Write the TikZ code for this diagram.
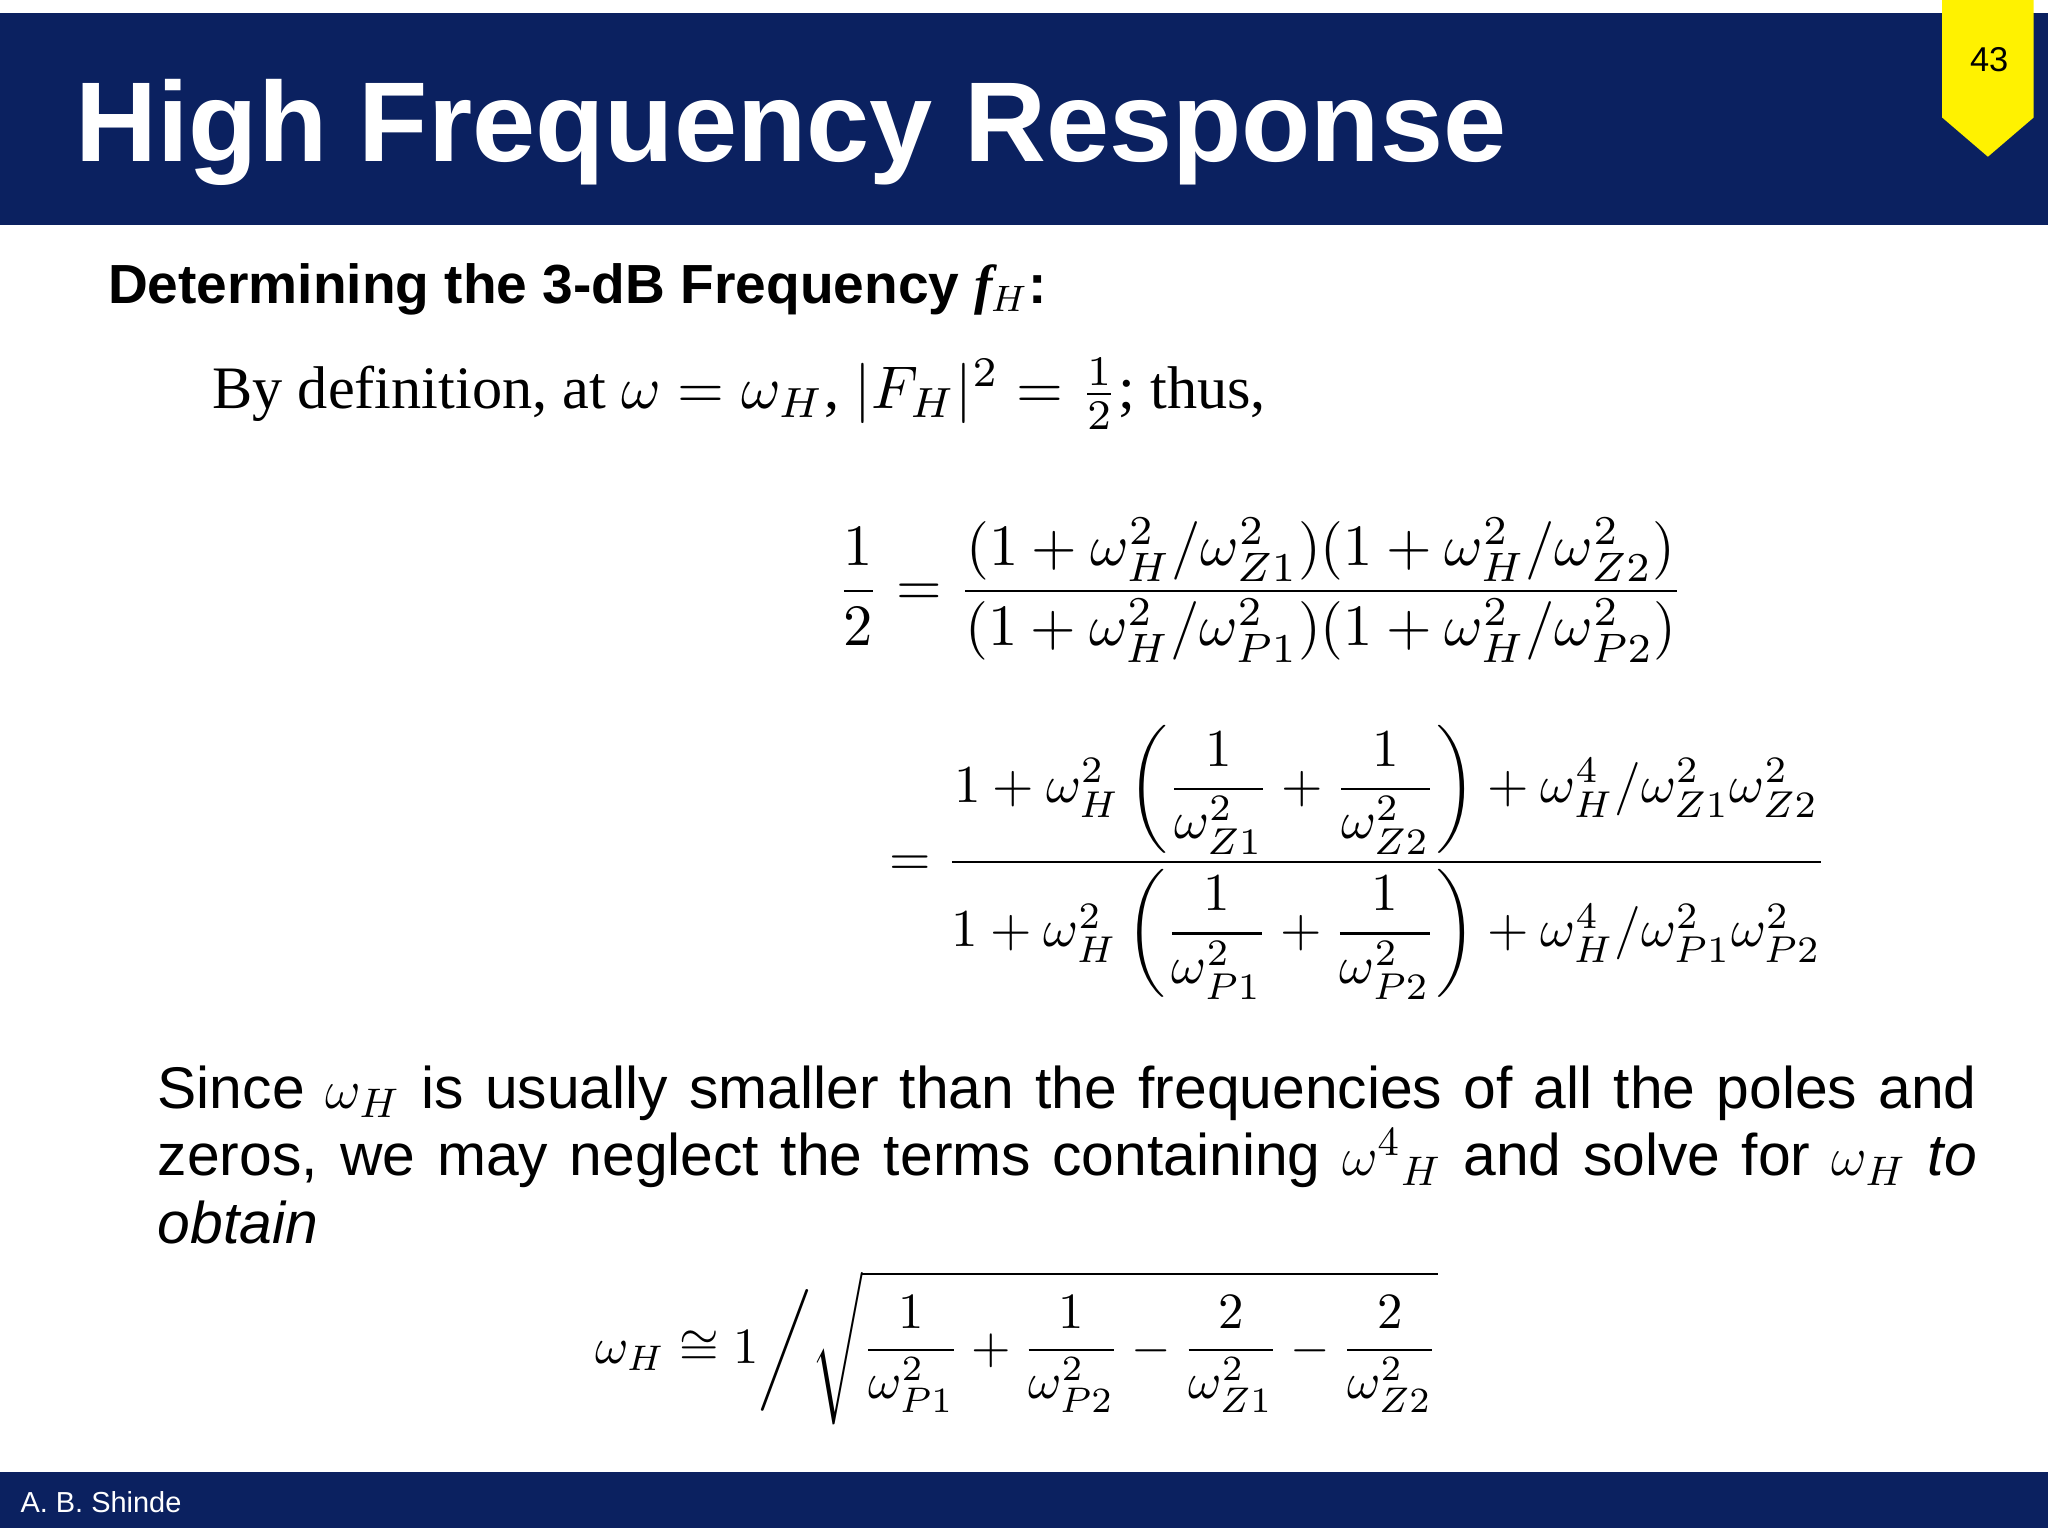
\documentclass[tikz,border=0pt]{standalone}
\usepackage{fontspec}
\setmainfont{Liberation Serif}
\newfontfamily\arial{Liberation Sans}
\usepackage{amsmath,graphicx}
\definecolor{navy}{HTML}{0B2160}
\definecolor{tabyellow}{HTML}{FFF200}
\tikzset{body/.style={font=\arial\fontsize{12.8}{14.8}\selectfont, inner sep=0pt}}
\begin{document}
\begin{tikzpicture}[x=0.01cm,y=-0.01cm]
\useasboundingbox (0,0) rectangle (1568,1176);
\fill[navy] (0,10) rectangle (1568,172);
\fill[navy] (0,1127) rectangle (1568,1170);
\fill[tabyellow] (1487,0) -- (1557,0) -- (1557,90) -- (1522,120) -- (1487,90) -- cycle;
\node[anchor=center, font=\arial\fontsize{7.5}{9}\selectfont] (num) at (1523,46) {43};
\node[anchor=base west, inner sep=0pt, text=white, font=\arial\bfseries\fontsize{24.7}{28}\selectfont] (title) at (57,124) {High Frequency Response};
\node[anchor=west, inner sep=0pt, text=white, font=\arial\fontsize{6.3}{8}\selectfont] (author) at (15,1150) {A. B. Shinde};
\node[anchor=base west, inner sep=0pt, font=\arial\bfseries\fontsize{12}{14}\selectfont] (head) at (82,232) {Determining the 3-dB Frequency \textit{\rmfamily f}$_{\!H}$:};
\node[anchor=base west, inner sep=0pt] (def) at (162,313) {\resizebox{8.06cm}{!}{By definition, at $\omega=\omega_H$, $|F_H|^2=\tfrac12$; thus,}};
\node[anchor=west, inner sep=0pt] (eq1) at (640,452) {\resizebox{6.48cm}{!}{$\dfrac12=\dfrac{(1+\omega_H^2/\omega_{Z1}^2)(1+\omega_H^2/\omega_{Z2}^2)}{(1+\omega_H^2/\omega_{P1}^2)(1+\omega_H^2/\omega_{P2}^2)}$}};
\node[anchor=west, inner sep=0pt] (eq2) at (680,660) {\resizebox{7.18cm}{!}{$=\dfrac{1+\omega_H^2\left(\dfrac{1}{\omega_{Z1}^2}+\dfrac{1}{\omega_{Z2}^2}\right)+\omega_H^4/\omega_{Z1}^2\omega_{Z2}^2}{1+\omega_H^2\left(\dfrac{1}{\omega_{P1}^2}+\dfrac{1}{\omega_{P2}^2}\right)+\omega_H^4/\omega_{P1}^2\omega_{P2}^2}$}};
\node[anchor=north west, body, text width=13.92cm, align=justify] (para) at (120,815) {\fontsize{12.8}{14.8}\selectfont Since $\omega_H$ is usually smaller than the frequencies of all the poles and zeros, we may neglect the terms containing $\omega^4{}_H$ and solve for $\omega_H$ \textit{to obtain}};
\node[anchor=west, inner sep=0pt] (eq3) at (455,1032) {\resizebox{6.45cm}{!}{$\omega_H\cong 1\bigg/\sqrt{\dfrac{1}{\omega_{P1}^2}+\dfrac{1}{\omega_{P2}^2}-\dfrac{2}{\omega_{Z1}^2}-\dfrac{2}{\omega_{Z2}^2}\vphantom{\bigg|}}$}};
\end{tikzpicture}
\end{document}
